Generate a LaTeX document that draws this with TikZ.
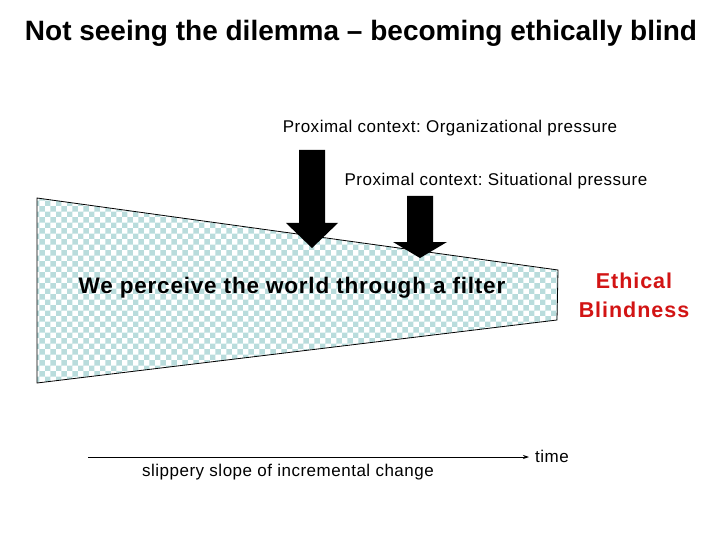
\documentclass[tikz,border=0pt]{standalone}
\usepackage{fontspec}
\setmainfont{Liberation Sans}
\usepackage{tikz}
\usetikzlibrary{arrows.meta,patterns}
\definecolor{filterC}{RGB}{185,220,220}
\definecolor{blindR}{RGB}{210,20,20}
\frenchspacing

\begin{document}
\begin{tikzpicture}[x=1pt, y=-1pt, >={Stealth[length=6pt,width=4pt]},
  ttl/.style={font=\fontsize{28}{32}\selectfont\bfseries, anchor=center},
  lbl/.style={font=\fontsize{17}{19}\selectfont\addfontfeature{LetterSpace=3},
              anchor=center, inner sep=0pt},
  big/.style={font=\fontsize{22.5}{29}\selectfont\bfseries\addfontfeature{LetterSpace=3.5},
              align=center, inner sep=0pt}]
  \useasboundingbox (0,0) rectangle (720,540);
  \node[ttl] (title) at (361,33) {Not seeing the dilemma -- becoming ethically blind};
  % the filter
  \draw[line width=0.8pt, pattern=checkerboard, pattern color=filterC]
    (37,198) -- (558,270) -- (557,320) -- (37,383) -- cycle;
  \node[big] (filter) at (292,288) {We perceive the world through a filter};
  \node[big, text=blindR, font=\fontsize{21.5}{29}\selectfont\bfseries\addfontfeature{LetterSpace=4.5}]
    (blind) at (634,295) {Ethical\\Blindness};
  % pressures
  \node[lbl] (org) at (450,128) {Proximal context: Organizational pressure};
  \node[lbl] (sit) at (496,181) {Proximal context: Situational pressure};
  \fill (299,150) -- (325,150) -- (325,223) -- (338,223) -- (312,248)
    -- (286,223) -- (299,223) -- cycle;
  \fill (407,196) -- (433,196) -- (433,242) -- (447,242) -- (420,258)
    -- (393,242) -- (407,242) -- cycle;
  % time axis
  \coordinate (t0) at (88,457);
  \node[lbl, anchor=west] (time) at (535,456) {time};
  \draw[->, thick, shorten >=6pt] (t0) -- (time.west |- t0);
  \node[lbl] (slope) at (288,472) {slippery slope of incremental change};
\end{tikzpicture}
\end{document}
